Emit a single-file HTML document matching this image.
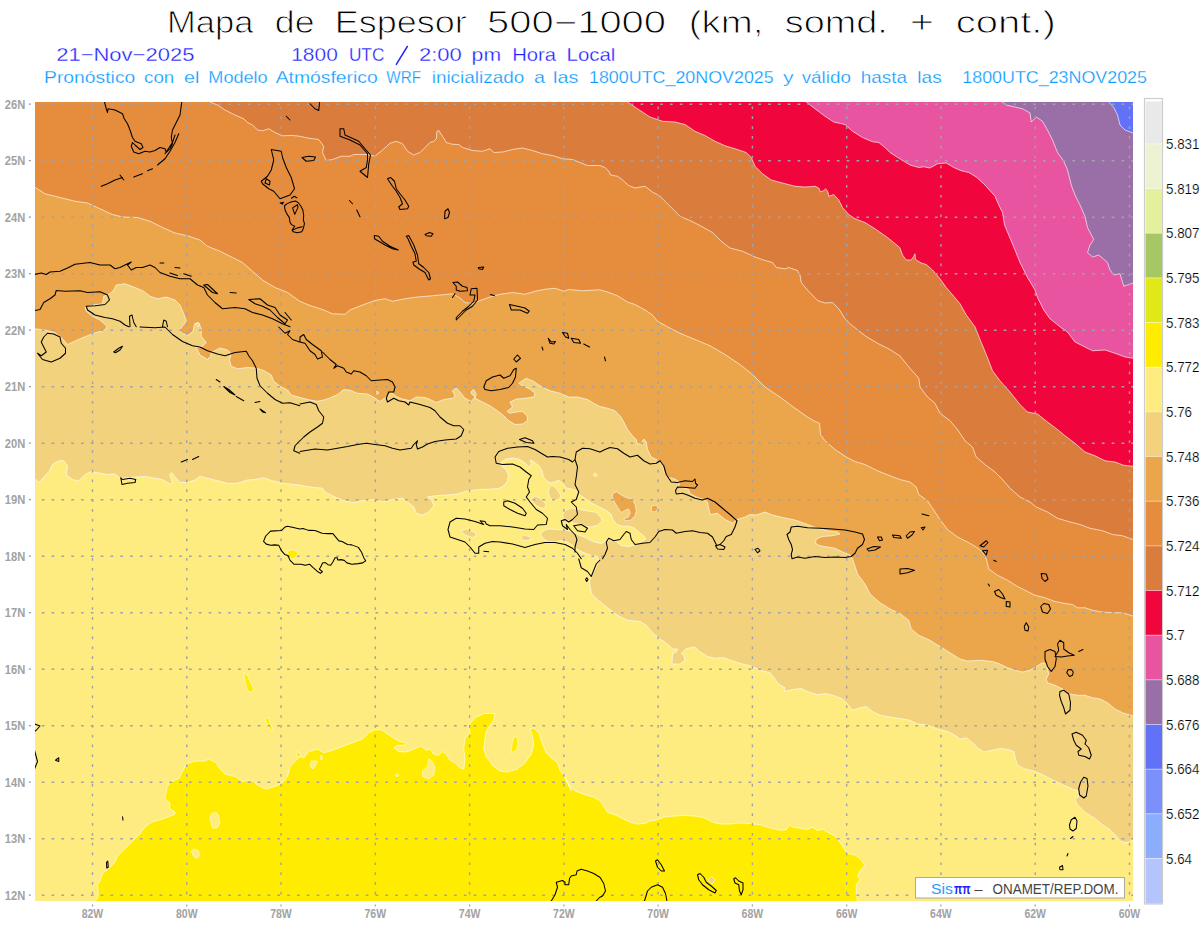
<!DOCTYPE html>
<html><head><meta charset="utf-8"><title>Mapa de Espesor 500-1000</title>
<style>
html,body{margin:0;padding:0;background:#fff;}
body{width:1200px;height:927px;overflow:hidden;font-family:"Liberation Sans",sans-serif;}
svg{display:block;}
text{font-family:"Liberation Sans",sans-serif;white-space:pre;}
.ax{font-size:13px;font-weight:bold;fill:#a2a2a2;}
.cb{font-size:14px;fill:#000;stroke:#fff;stroke-width:.2px;}
.lg{font-size:14.5px;}
.t1{font-size:31px;fill:#000;stroke:#fff;stroke-width:.9px;}
.t2{font-size:18.5px;stroke:#fff;stroke-width:.3px;}
.t3{font-size:17px;stroke:#fff;stroke-width:.25px;}
</style></head><body>
<svg width="1200" height="927" viewBox="0 0 1200 927">
<defs><clipPath id="mapclip"><rect x="35" y="102" width="1098" height="799"/></clipPath></defs>
<rect width="1200" height="927" fill="#fff"/>
<g clip-path="url(#mapclip)">
<rect x="35" y="102" width="1098" height="799" fill="#6272f8"/>
<path d="M1108.75 102 L1113.75 107.5 L1117.5 115 L1120 125 L1125 130 L1133 133 L1133 901 L35 901 L35 102Z" fill="#9a6ea6"/>
<path d="M1002 102 L1006.25 105 L1015 107 L1022.5 108.75 L1030 113 L1031.25 122 L1036.25 117 L1042.5 121.25 L1047.5 130 L1052.5 140 L1057.5 152.5 L1063.75 161.25 L1067.5 170 L1071.25 185 L1075 195 L1080 205 L1085 216.25 L1087.5 227.5 L1093.75 239.5 L1090 245 L1087.5 252.5 L1092.5 257 L1098.75 255 L1107.5 262.5 L1110 270 L1113.75 275 L1120 273.75 L1123.75 286.25 L1133 283 L1133 901 L35 901 L35 102Z" fill="#e954a1"/>
<path d="M806.25 102 L815 108.75 L825 116.25 L833.75 122 L845 124.5 L852.5 131.25 L862.5 137.5 L872.5 141.75 L878.75 142.5 L885 147.5 L890 152.5 L899.75 158.75 L910 165 L918.75 167.5 L923.75 166.75 L930 168 L937.5 163.75 L946.25 163 L953.75 167.5 L961.25 170.75 L968.75 172.5 L976.25 177 L985 185 L995 196.25 L998.75 205 L1002.5 212.5 L1004.5 225 L1008.75 235 L1015 250 L1020 262.5 L1027.5 277.5 L1035 290 L1037.5 297.5 L1043.75 310 L1050 318.75 L1060 326.75 L1067.5 332 L1075 342 L1082.5 345.75 L1092.5 350.75 L1105 350 L1115 353.25 L1125 357 L1133 358.25 L1133 901 L35 901 L35 102Z" fill="#f0063c"/>
<path d="M627.5 102 L637.5 108.75 L650 117 L662.5 121.25 L675 122 L685 124.5 L695 131.25 L705 135.5 L715 141.25 L725 145.75 L735 148.75 L746.25 152.5 L751.25 157.5 L755 166.25 L762.5 173.75 L771.25 180 L782.5 183 L795 186.25 L805 187 L815 186.25 L818.75 188 L820.5 192 L823.75 190.5 L825.75 188.75 L828 192 L828.75 196.25 L833.75 194.5 L838.75 200 L842.5 207.5 L848.75 214.5 L855 218.75 L865 222.5 L875 228.75 L887.5 237.5 L899.75 247.5 L902.5 255 L906.25 260 L911.25 260 L913.75 256.25 L915 253.75 L915.5 259.5 L921.25 263 L926.25 264.5 L932.5 270 L940 278.75 L946.25 287.5 L953.75 296.25 L960 303.75 L966.25 315 L975 326.75 L980 339.5 L986.25 354.5 L992.5 370.75 L1000 380.75 L1010 392 L1020 404.5 L1027.5 412 L1037.5 414 L1047.5 422 L1057.5 429.5 L1065 435.75 L1075 443.25 L1085 452 L1095 455.75 L1105 460.75 L1115 462 L1123.75 465.25 L1133 466.25 L1133 901 L35 901 L35 102Z" fill="#da7c3c"/>
<path d="M210 102 L217.5 105 L225 110 L235 115 L243.75 118.75 L247.5 122.5 L252.5 125 L257.5 130 L262.5 130.75 L268.75 128.75 L275 132.5 L282.5 135.75 L292.5 135.5 L299.75 136.25 L307.5 138 L318.75 139.5 L323.75 146.25 L322.5 152.5 L326.25 160.5 L332.5 159.5 L341.25 156.25 L350 156.25 L353.75 154.5 L367.5 154.5 L375 156.25 L382.5 150 L390 143.25 L396.25 141.25 L402.5 143.75 L407.5 151.25 L413.75 155 L420 152.5 L425 147.5 L430 142.5 L433.75 141.25 L436.25 138.75 L437 131.25 L438.75 130.5 L442.5 136.25 L446.25 142.5 L452.5 144.25 L458.75 144.5 L462.5 147.5 L472.5 150.5 L482.5 151.25 L490 148.75 L493.75 152.5 L502.5 152 L512.5 149.5 L522.5 148 L532.5 150.5 L542.5 153.75 L552.5 155.5 L562.5 158.75 L572.5 159.5 L580 162.5 L587.5 165.5 L599.75 165.5 L605 167.5 L608.75 171.25 L610.5 175 L617.5 176.25 L622.5 180 L628.75 185.5 L635 188 L645 186.25 L652.5 192 L660 196.25 L666.25 202.5 L672.5 208.75 L680 216.25 L688.75 220 L700 225.5 L712.5 232.5 L721.25 241.25 L730 248 L742.5 251.25 L755 257 L765 260.5 L772.5 262.5 L776.25 267.5 L785 268.75 L788.75 267.5 L797.5 270.5 L800 275 L801.25 282.5 L807.5 290 L817.5 300.5 L825 303 L832.5 302.5 L838.75 308.75 L845 318.75 L850 323.75 L853.75 326.75 L865 335.75 L877.5 343.25 L890 349.5 L899.75 355.75 L910 368.25 L918.75 378.25 L920 387 L927.5 397 L935 403.25 L940 413.25 L950 420.75 L957.5 429.5 L965 440.75 L972.5 447 L976.25 457 L985 464.5 L995 472 L1002.5 479.5 L1010 488.25 L1020 497 L1030 502 L1036.25 507 L1047.5 512 L1057.5 518.25 L1070 522 L1080 524.5 L1090 528.25 L1102.5 530.75 L1112.5 534.5 L1122.5 535.75 L1133 539.5 L1133 901 L35 901 L35 102Z" fill="#e58d3c"/>
<path d="M34.5 187 L45 193.75 L60 197.5 L75 201.25 L87.5 203 L100 208.75 L112.5 214.5 L122.5 217 L137.5 217.5 L150 221.25 L162.5 227.5 L175 233 L187.5 235.75 L200 240 L207.5 246.25 L220 251.25 L232.5 257.5 L242.5 262.5 L252.5 271.25 L262.5 280 L275 287.5 L287.5 292.5 L299.75 301.25 L310 305.5 L322.5 309.5 L332.5 313.75 L345 314.25 L350 310 L362.5 305 L375 300.5 L385 298.75 L392.5 301.25 L405 298.75 L417.5 297 L432.5 295.75 L445 294.5 L452.5 293.75 L460 298 L465 302.5 L472.5 303.75 L480 300.5 L490 297 L500 294.25 L512.5 292.5 L525 294.25 L535 291.25 L545 289.25 L555 288.25 L563.75 291.25 L568.75 289.5 L582.5 290.75 L599.75 289.75 L607.5 292 L617.5 295.75 L627.5 302 L635 304.5 L645 310 L652.5 315 L657.5 321.25 L667.5 326.75 L680 333.25 L695 339.5 L710 345.75 L725 354.5 L740 364.5 L752.5 374.5 L765 387 L780 397 L795 408.25 L807.5 417 L815 421.5 L819.5 423.25 L820.5 434.5 L825 440.75 L835 449.5 L846.25 457 L855 461.5 L865 464.5 L877.5 470.75 L890 475.75 L899.75 479.5 L910 482 L916.25 487 L918.75 494.5 L927.5 500.75 L932.5 508.25 L940 519.5 L947.5 529.5 L957.5 537 L967.5 542 L976.25 547 L982.5 552 L986.25 558.75 L988.75 569 L997.5 575.25 L1007.5 580.25 L1017.5 586.5 L1027.5 591.5 L1035 595.25 L1045 597.75 L1055 601.5 L1065 603.5 L1072.5 604.5 L1077.5 607.75 L1085 607.75 L1092.5 610.25 L1102.5 612 L1112.5 612.75 L1122.5 612.75 L1133 616 L1133 901 L35 901Z" fill="#eba54a"/>
<path d="M34.5 328.75 L45 330 L55 332.5 L62.5 338.75 L67.5 344.5 L80 338.75 L92.5 333.75 L105 330 L107 326.25 L100 320 L92.5 316.25 L86.25 311.25 L85 307.5 L92.5 305 L102.5 303.75 L103.75 296.25 L110 293.75 L113.75 290 L116.25 285 L125 283.75 L135 287.5 L143.75 291.25 L150 296.25 L157.5 298.75 L166.25 297 L175 300 L180 305 L183.75 313.75 L186.25 321.25 L182.5 326.25 L179.5 330 L182.5 333.75 L188.75 335 L193 331.25 L194.5 323.75 L198.75 323.25 L201.25 328.75 L201.25 336.25 L206.25 342.5 L202.5 346.25 L196.25 347.5 L200 355 L207.5 359.5 L210.5 356.25 L211.25 352.5 L220 348 L227.5 350 L231.25 353.75 L229.5 360 L231.25 366.25 L237.5 368.75 L247.5 367.5 L256.25 368 L263.75 370.5 L271.25 375 L273.75 381.25 L280 386.25 L287.5 390 L291.25 395 L300 397.5 L310 400 L317.5 401.25 L323.75 400 L329.75 398 L337.5 394.5 L343.75 389.5 L350 390.25 L357.5 393.25 L367.5 394 L372.5 396.5 L380 401.5 L386.25 397 L391.25 392.5 L396.25 396.5 L402.5 399 L410 400.75 L416.25 397 L425 397.5 L430 399.5 L436.25 402.5 L443.75 399.5 L452.5 398.25 L455 395.75 L452.5 390.75 L456.25 387.75 L460 392 L465 398.25 L471.25 401.5 L475 397 L470 392.5 L473.75 389.5 L476.25 394.5 L475 398.25 L482.5 402 L490 405.75 L497.5 410.75 L503.75 415.75 L508.75 420.75 L515 424.5 L522.5 424 L527.5 420.75 L527 415.75 L522.5 411.5 L516.25 412 L510 413.25 L507 411.5 L512.5 407 L510 402 L516.25 399 L525 398.25 L533.75 397 L535 393.25 L530 389 L522.5 385.75 L518.75 383.25 L526.25 378.25 L533.75 381.5 L540 385.75 L550 390.75 L560 393.25 L568.75 397 L577.5 397 L587.5 399.5 L593.75 403.25 L599.75 406.5 L607.5 408.25 L615 410.75 L620 415.75 L623.75 422 L627.5 429.5 L632.5 435.75 L636.25 439.5 L637.5 444.5 L641.25 443.25 L643.75 439 L646.25 442 L647.5 449.5 L651.25 457 L658.75 460.75 L662.5 463.25 L663.75 470.75 L667.5 477 L675 479 L679.5 482 L678.75 487 L685 488.25 L688.75 489.5 L689.5 493.25 L696.25 497 L703.75 499.5 L707.5 502 L710 514.5 L717.5 513.25 L725 519.5 L732.5 523.25 L737 519.5 L745 517 L750 514.5 L756.25 515 L765 512 L772.5 515 L782.5 517.5 L795 520 L807.5 524.5 L817.5 528.25 L827.5 530.75 L837.5 532 L840 534 L832.5 535.75 L822.5 536.5 L816.25 539 L815.5 543.25 L820 545.75 L827.5 547 L835 548.25 L842.5 552 L850 555 L852.5 558.75 L857.5 574 L865 584 L870 594 L880 602.75 L890 609 L899.75 613.5 L908.75 620.25 L911.25 629 L918.75 635.25 L930 640.25 L940 646.5 L950 652.75 L960 659 L967.5 661 L980 660.25 L992.5 661.5 L1000 664 L1007.5 667.75 L1015 670.25 L1022.5 672 L1030 670.25 L1036.25 666.5 L1042.5 662.75 L1046.25 664 L1047.5 669 L1048.75 674 L1046.25 679 L1047.5 682.75 L1055 685.25 L1062.5 689 L1070 694 L1077.5 695.25 L1085 695.25 L1092.5 697.75 L1100 699 L1107.5 702.75 L1115 709 L1122.5 712.75 L1133 716 L1133 901 L35 901Z" fill="#f3d27e"/>
<path d="M34.5 478.25 L38.75 482.5 L43.75 477 L48.75 472 L52.5 464.5 L58.75 460.75 L63.75 460.75 L67.5 465.75 L66.25 474.5 L72.5 479.5 L78.75 480.75 L85 474.5 L91.25 471.5 L100 473.25 L107.5 474.5 L115 474 L120 478.25 L127.5 477.75 L136.25 477 L145 476.5 L155 478.25 L162.5 479.5 L170 484 L172.5 483.25 L169.5 474.5 L172 472.75 L175 477 L180 482.5 L187.5 482.5 L195 480 L200 476.25 L207.5 478.25 L217.5 480.75 L227.5 483.25 L237.5 483.25 L247.5 480 L255 479.5 L263.75 477.75 L272.5 480.75 L282.5 483.25 L299.75 485 L310 487 L322.5 488.25 L325 492 L335 497 L343.75 500.75 L353.75 502.75 L365 500 L375 499.5 L382.5 502 L392.5 499.5 L402.5 498.25 L407.5 502 L413.75 507 L416.25 513.25 L422.5 515 L428.75 512 L433.75 505.75 L431.25 499.5 L427.5 497 L435 495.75 L447.5 495 L457.5 494 L467.5 490.75 L480 489.5 L480 489.5 L489.17 489.13 L498.33 488.58 L503.83 485.83 L507.5 481.25 L508.42 474.83 L505.67 469.33 L501.08 465.67 L500.17 462.92 L505.67 459.25 L513 457.97 L519.42 459.25 L524.92 462.92 L529.5 467.13 L531.33 463.83 L530.42 459.8 L534.08 462 L538.67 465.67 L542.33 471.17 L543.25 476.67 L546.92 481.25 L551.5 483.08 L558.83 480.33 L563.42 484 L566.17 488.03 L573.5 489.5 L578.08 491.33 L579.92 495 L585.42 498.67 L591.83 503.25 L599.17 506.92 L606.5 510.58 L611.08 514.25 L612.92 519.75 L616.58 524.33 L622.08 526.17 L628.5 526.17 L634 528 L639.5 532.58 L644.08 536.25 L645.92 539 L641.33 541.75 L635.83 544.5 L628.5 546.7 L621.17 545.42 L616.58 541.75 L612 540.83 L608.33 539.92 L601 543.58 L593.67 541.75 L586.33 538.08 L579 534.97 L573.5 532.03 L566.17 530.2 L557 529.47 L548.75 528.92 L543.25 530.75 L540.5 534.42 L543.25 539 L548.75 541.75 L557 541.75 L561.58 540.47 L566.17 541.75 L571.67 544.5 L575.33 548.17 L582.67 552.2 L590 555.13 L597.33 556.42 L599.17 561 L595.5 568.33 L591.83 575.67 L589.63 581.17 L590 586.67 L591.83 594 L597.33 599.5 L600.08 602.25 L600 601.5 L607.5 607.75 L617.5 615.25 L627.5 620.25 L640 621.5 L646.25 625.25 L652.5 632.75 L660 639 L667.5 644 L672.5 649 L677.5 649 L676.25 652 L672.5 653.5 L672 664 L680 664 L685 660.25 L683.75 655.25 L681.25 653.5 L686.25 648.5 L695 647 L698.75 651 L707.5 656.5 L715 658.25 L723.75 657.75 L732.5 661 L742.5 664 L752.5 666.5 L760 670.25 L770 672.75 L775 679 L777.5 683.25 L785 687.75 L784.5 691.5 L792.5 689.5 L801.25 688.5 L807.5 691.5 L817.5 694.75 L826.25 693.5 L835 696 L842.5 699 L847.5 704 L852.5 710.25 L860 707.75 L866.25 706.5 L872.5 711.5 L880 715.25 L890 717 L899.75 718.5 L910 720.25 L917.5 724 L927.5 725.25 L937.5 729 L947.5 731.5 L955 735.25 L960 739 L966.25 737.75 L972.5 742.75 L977.5 747.75 L983.75 752 L992.5 750.25 L1000 748.5 L1007.5 749.5 L1013.75 751.5 L1015.5 759 L1017.5 765.25 L1025 769 L1033.75 771 L1042.5 774.75 L1052.5 779.75 L1062.5 784.75 L1072.5 789 L1077.5 790.5 L1078.75 796 L1075 799.75 L1077.5 804.75 L1085 812.25 L1095 818.5 L1102.5 824.75 L1110 829.75 L1116.25 836 L1120 841 L1125 842.75 L1130 841.75 L1133 839.75 L1133 901 L35 901Z" fill="#ffec80"/>
<path d="M95 901 L97.5 898.5 L98.25 893.5 L97.5 884.75 L100 881 L102.5 873.5 L107.5 869.75 L115 862.25 L117.5 856 L125 848.5 L132.5 841 L140 833.5 L145 827.25 L151.25 822.25 L160 819.75 L167.5 817.25 L175 814 L175 812.25 L169.5 808.5 L170 803.5 L165 798.5 L167 787.25 L170 782.25 L178.75 778.5 L182.5 771 L182.5 771.5 L186.25 764 L195 761 L205 761 L208.75 759 L216.25 762.75 L220 769 L225 774 L235 776.5 L242.5 781.5 L247.5 780.25 L252.5 780.25 L257.5 785.25 L266.25 789 L275 786.5 L282.5 782.75 L287.5 776.5 L290 766.5 L296.25 760.25 L299.75 756.5 L303.75 757.75 L308.75 751.5 L317.5 749 L323.75 752.75 L332.5 750.25 L342.5 746.5 L352.5 742.75 L362.5 739 L368.75 732.75 L375 729.75 L381.25 729.75 L387.5 734 L395 739 L400 741.5 L406.25 742.75 L405 745.25 L397.5 745.25 L393.75 747.75 L398.75 751.5 L406.25 752 L415 748.5 L421.25 746 L426.25 750.25 L430 749 L433.75 754 L438.75 755.25 L442.5 751.5 L446.25 754 L450 760.25 L455 762.75 L460 767.75 L463.75 769 L465 759 L463.75 749 L465 737.75 L470 734 L468.75 725.25 L475 717.75 L483.75 713.5 L495 713.5 L493.75 720.25 L490 725.25 L486.25 731.5 L485 739 L483.75 749 L486.25 756.5 L492.5 765.25 L500 771 L507.5 772 L517.5 769 L525 762.75 L531.25 754 L533.75 744 L532.5 736.5 L530 729 L533.75 727.75 L538.75 732.75 L542.5 744 L546.25 752.75 L551.25 757.75 L557.5 762.75 L560 770.25 L565 777.75 L568.75 785.25 L571.25 790.75 L565 777.25 L568.75 784.75 L575 791 L585 794.75 L593.75 797.25 L599.75 800.5 L603.75 806 L607.5 812.25 L615 814.75 L622.5 818.5 L630 822.25 L637.5 824 L645 823.5 L650 821 L657.5 819.75 L665 816.75 L675 816 L685 815.5 L695 816 L705 818 L712.5 822.25 L720 824 L730 824 L740 823 L750 823.5 L760 824.75 L770 828 L780 830.25 L786.25 829.75 L789.5 824.75 L792.5 827.25 L800 828 L806.25 829.75 L812.5 827.25 L817.5 830.5 L822.5 829 L827.5 832.25 L835 836 L840 842.25 L843.75 848.5 L847.5 853.5 L855 854.75 L861.25 859.75 L865 865.5 L860 871 L857.5 876 L860 879.75 L856.25 884.75 L856.25 893.5 L857.5 901Z" fill="#ffec00"/>
<path d="M612.92 493.17 L616.58 491.88 L621.17 495 L626.67 497.75 L632.17 499.03 L634.92 504.17 L636.2 510.58 L634.92 516.08 L630.33 520.3 L624.83 520.67 L623.92 518.83 L628.5 517 L630.33 512.42 L628.5 508.75 L624.83 510.58 L621.17 512.42 L617.5 506.92 L614.75 502.33 L612.37 496.83Z" fill="#eba54a" stroke="#fff" stroke-opacity=".75" stroke-width=".7"/>
<path d="M651.42 506 L656.92 505.08 L657.83 508.75 L655.08 511.87 L651.42 511.5Z" fill="#eba54a" stroke="#fff" stroke-opacity=".75" stroke-width=".7"/>
<path d="M791.25 550.25 L792.5 548.5 L794 550.75 L792.5 553.25Z" fill="#eba54a" stroke="#fff" stroke-opacity=".75" stroke-width=".7"/>
<path d="M548.75 489.5 L550.58 485.83 L553.33 485.83 L557 489.5 L560.67 495 L559.75 498.67 L555.17 500.13 L550.58 498.67 L548.75 494.08Z" fill="#f3d27e" stroke="#fff" stroke-opacity=".75" stroke-width=".7"/>
<path d="M532.25 498.67 L535 495.92 L540.5 498.67 L545.08 503.25 L546 506.92 L542.33 508.2 L536.83 506 L533.17 502.33Z" fill="#f3d27e" stroke="#fff" stroke-opacity=".75" stroke-width=".7"/>
<path d="M562.5 515.17 L565.25 510.58 L571.67 508.2 L579 509.3 L588.17 511.13 L596.42 512.42 L601 517.92 L601.92 520.67 L597.33 525.25 L590 527.08 L582.67 525.25 L575.33 523.42 L568 520.67 L563.42 517.92Z" fill="#f3d27e" stroke="#fff" stroke-opacity=".75" stroke-width=".7"/>
<path d="M521.25 537.17 L524 534.97 L529.5 536.8 L531.33 539 L526.75 540.47 L522.17 539.92Z" fill="#f3d27e" stroke="#fff" stroke-opacity=".75" stroke-width=".7"/>
<path d="M195.75 323.75 L198 322 L200 324.5 L198 326.75Z" fill="#f3d27e" stroke="#fff" stroke-opacity=".75" stroke-width=".7"/>
<path d="M375.5 392.75 L377 391 L379 392.75 L377 394.5Z" fill="#f3d27e" stroke="#fff" stroke-opacity=".75" stroke-width=".7"/>
<path d="M593.12 474.47 L595.13 473 L597.33 474.83 L595.5 477.03Z" fill="#ffec80" stroke="#fff" stroke-opacity=".75" stroke-width=".7"/>
<path d="M243.75 672.75 L247.5 675.25 L251.25 684 L253.75 689 L251.25 692.75 L247.5 690.25 L245 681.5Z" fill="#ffec00" stroke="#fff" stroke-opacity=".75" stroke-width=".7"/>
<path d="M265 719 L268.75 717.75 L270 724 L273 729 L271.25 730.25 L267.5 725.25Z" fill="#ffec00" stroke="#fff" stroke-opacity=".75" stroke-width=".7"/>
<path d="M295.75 751.5 L299.75 752.75 L301.25 756.5 L297.5 757Z" fill="#ffec00" stroke="#fff" stroke-opacity=".75" stroke-width=".7"/>
<path d="M511.25 752.75 L512 744 L513.75 737 L517.5 737 L518 745.25 L516.25 750.25Z" fill="#ffec00" stroke="#fff" stroke-opacity=".75" stroke-width=".7"/>
<path d="M287.38 552.79 L289 550.3 L293.33 550.08 L297.12 551.17 L297.88 553.88 L296.04 557.12 L292.79 558.97 L290.08 557.67 L287.92 554.96Z" fill="#ffec00" stroke="#fff" stroke-opacity=".75" stroke-width=".7"/>
<path d="M422.5 776.5 L422.5 771 L427.5 766.5 L428.75 759 L432.5 761.5 L435 767.75 L433.75 775.25 L428.75 779Z" fill="#ffec80" stroke="#fff" stroke-opacity=".75" stroke-width=".7"/>
<path d="M310 765.25 L311.25 761 L317.5 761 L315 766.5 L312.5 769Z" fill="#ffec80" stroke="#fff" stroke-opacity=".75" stroke-width=".7"/>
<path d="M210 818.5 L211.25 813.5 L216.25 812.25 L218.75 816 L219.5 823.5 L217 828 L212.5 828Z" fill="#ffec80" stroke="#fff" stroke-opacity=".75" stroke-width=".7"/>
<path d="M191.25 851 L195 849 L198.75 851 L199.25 856 L196.25 858.5 L193 855.5Z" fill="#ffec80" stroke="#fff" stroke-opacity=".75" stroke-width=".7"/>
<path d="M320 757.75 L321.25 755.25 L322.75 757.75 L321.25 760.25Z" fill="#ffec80" stroke="#fff" stroke-opacity=".75" stroke-width=".7"/>
<path d="M395.5 775.25 L397 773.5 L398.75 775.25 L397 777Z" fill="#ffec80" stroke="#fff" stroke-opacity=".75" stroke-width=".7"/>
<path d="M708 879.75 L711.25 876.5 L715 879.75 L711.75 884Z" fill="#f3d27e" stroke="#fff" stroke-opacity=".75" stroke-width=".7"/>
<path d="M461.25 530.75 L466.25 529 L475 532.5 L476.25 535.75 L472.5 537.5 L465 535Z" fill="#f3d27e" stroke="#fff" stroke-opacity=".75" stroke-width=".7"/>
<path d="M1108.75 102 L1113.75 107.5 L1117.5 115 L1120 125 L1125 130 L1133 133 M1002 102 L1006.25 105 L1015 107 L1022.5 108.75 L1030 113 L1031.25 122 L1036.25 117 L1042.5 121.25 L1047.5 130 L1052.5 140 L1057.5 152.5 L1063.75 161.25 L1067.5 170 L1071.25 185 L1075 195 L1080 205 L1085 216.25 L1087.5 227.5 L1093.75 239.5 L1090 245 L1087.5 252.5 L1092.5 257 L1098.75 255 L1107.5 262.5 L1110 270 L1113.75 275 L1120 273.75 L1123.75 286.25 L1133 283 M806.25 102 L815 108.75 L825 116.25 L833.75 122 L845 124.5 L852.5 131.25 L862.5 137.5 L872.5 141.75 L878.75 142.5 L885 147.5 L890 152.5 L899.75 158.75 L910 165 L918.75 167.5 L923.75 166.75 L930 168 L937.5 163.75 L946.25 163 L953.75 167.5 L961.25 170.75 L968.75 172.5 L976.25 177 L985 185 L995 196.25 L998.75 205 L1002.5 212.5 L1004.5 225 L1008.75 235 L1015 250 L1020 262.5 L1027.5 277.5 L1035 290 L1037.5 297.5 L1043.75 310 L1050 318.75 L1060 326.75 L1067.5 332 L1075 342 L1082.5 345.75 L1092.5 350.75 L1105 350 L1115 353.25 L1125 357 L1133 358.25 M627.5 102 L637.5 108.75 L650 117 L662.5 121.25 L675 122 L685 124.5 L695 131.25 L705 135.5 L715 141.25 L725 145.75 L735 148.75 L746.25 152.5 L751.25 157.5 L755 166.25 L762.5 173.75 L771.25 180 L782.5 183 L795 186.25 L805 187 L815 186.25 L818.75 188 L820.5 192 L823.75 190.5 L825.75 188.75 L828 192 L828.75 196.25 L833.75 194.5 L838.75 200 L842.5 207.5 L848.75 214.5 L855 218.75 L865 222.5 L875 228.75 L887.5 237.5 L899.75 247.5 L902.5 255 L906.25 260 L911.25 260 L913.75 256.25 L915 253.75 L915.5 259.5 L921.25 263 L926.25 264.5 L932.5 270 L940 278.75 L946.25 287.5 L953.75 296.25 L960 303.75 L966.25 315 L975 326.75 L980 339.5 L986.25 354.5 L992.5 370.75 L1000 380.75 L1010 392 L1020 404.5 L1027.5 412 L1037.5 414 L1047.5 422 L1057.5 429.5 L1065 435.75 L1075 443.25 L1085 452 L1095 455.75 L1105 460.75 L1115 462 L1123.75 465.25 L1133 466.25 M210 102 L217.5 105 L225 110 L235 115 L243.75 118.75 L247.5 122.5 L252.5 125 L257.5 130 L262.5 130.75 L268.75 128.75 L275 132.5 L282.5 135.75 L292.5 135.5 L299.75 136.25 L307.5 138 L318.75 139.5 L323.75 146.25 L322.5 152.5 L326.25 160.5 L332.5 159.5 L341.25 156.25 L350 156.25 L353.75 154.5 L367.5 154.5 L375 156.25 L382.5 150 L390 143.25 L396.25 141.25 L402.5 143.75 L407.5 151.25 L413.75 155 L420 152.5 L425 147.5 L430 142.5 L433.75 141.25 L436.25 138.75 L437 131.25 L438.75 130.5 L442.5 136.25 L446.25 142.5 L452.5 144.25 L458.75 144.5 L462.5 147.5 L472.5 150.5 L482.5 151.25 L490 148.75 L493.75 152.5 L502.5 152 L512.5 149.5 L522.5 148 L532.5 150.5 L542.5 153.75 L552.5 155.5 L562.5 158.75 L572.5 159.5 L580 162.5 L587.5 165.5 L599.75 165.5 L605 167.5 L608.75 171.25 L610.5 175 L617.5 176.25 L622.5 180 L628.75 185.5 L635 188 L645 186.25 L652.5 192 L660 196.25 L666.25 202.5 L672.5 208.75 L680 216.25 L688.75 220 L700 225.5 L712.5 232.5 L721.25 241.25 L730 248 L742.5 251.25 L755 257 L765 260.5 L772.5 262.5 L776.25 267.5 L785 268.75 L788.75 267.5 L797.5 270.5 L800 275 L801.25 282.5 L807.5 290 L817.5 300.5 L825 303 L832.5 302.5 L838.75 308.75 L845 318.75 L850 323.75 L853.75 326.75 L865 335.75 L877.5 343.25 L890 349.5 L899.75 355.75 L910 368.25 L918.75 378.25 L920 387 L927.5 397 L935 403.25 L940 413.25 L950 420.75 L957.5 429.5 L965 440.75 L972.5 447 L976.25 457 L985 464.5 L995 472 L1002.5 479.5 L1010 488.25 L1020 497 L1030 502 L1036.25 507 L1047.5 512 L1057.5 518.25 L1070 522 L1080 524.5 L1090 528.25 L1102.5 530.75 L1112.5 534.5 L1122.5 535.75 L1133 539.5 M34.5 187 L45 193.75 L60 197.5 L75 201.25 L87.5 203 L100 208.75 L112.5 214.5 L122.5 217 L137.5 217.5 L150 221.25 L162.5 227.5 L175 233 L187.5 235.75 L200 240 L207.5 246.25 L220 251.25 L232.5 257.5 L242.5 262.5 L252.5 271.25 L262.5 280 L275 287.5 L287.5 292.5 L299.75 301.25 L310 305.5 L322.5 309.5 L332.5 313.75 L345 314.25 L350 310 L362.5 305 L375 300.5 L385 298.75 L392.5 301.25 L405 298.75 L417.5 297 L432.5 295.75 L445 294.5 L452.5 293.75 L460 298 L465 302.5 L472.5 303.75 L480 300.5 L490 297 L500 294.25 L512.5 292.5 L525 294.25 L535 291.25 L545 289.25 L555 288.25 L563.75 291.25 L568.75 289.5 L582.5 290.75 L599.75 289.75 L607.5 292 L617.5 295.75 L627.5 302 L635 304.5 L645 310 L652.5 315 L657.5 321.25 L667.5 326.75 L680 333.25 L695 339.5 L710 345.75 L725 354.5 L740 364.5 L752.5 374.5 L765 387 L780 397 L795 408.25 L807.5 417 L815 421.5 L819.5 423.25 L820.5 434.5 L825 440.75 L835 449.5 L846.25 457 L855 461.5 L865 464.5 L877.5 470.75 L890 475.75 L899.75 479.5 L910 482 L916.25 487 L918.75 494.5 L927.5 500.75 L932.5 508.25 L940 519.5 L947.5 529.5 L957.5 537 L967.5 542 L976.25 547 L982.5 552 L986.25 558.75 L988.75 569 L997.5 575.25 L1007.5 580.25 L1017.5 586.5 L1027.5 591.5 L1035 595.25 L1045 597.75 L1055 601.5 L1065 603.5 L1072.5 604.5 L1077.5 607.75 L1085 607.75 L1092.5 610.25 L1102.5 612 L1112.5 612.75 L1122.5 612.75 L1133 616 M34.5 328.75 L45 330 L55 332.5 L62.5 338.75 L67.5 344.5 L80 338.75 L92.5 333.75 L105 330 L107 326.25 L100 320 L92.5 316.25 L86.25 311.25 L85 307.5 L92.5 305 L102.5 303.75 L103.75 296.25 L110 293.75 L113.75 290 L116.25 285 L125 283.75 L135 287.5 L143.75 291.25 L150 296.25 L157.5 298.75 L166.25 297 L175 300 L180 305 L183.75 313.75 L186.25 321.25 L182.5 326.25 L179.5 330 L182.5 333.75 L188.75 335 L193 331.25 L194.5 323.75 L198.75 323.25 L201.25 328.75 L201.25 336.25 L206.25 342.5 L202.5 346.25 L196.25 347.5 L200 355 L207.5 359.5 L210.5 356.25 L211.25 352.5 L220 348 L227.5 350 L231.25 353.75 L229.5 360 L231.25 366.25 L237.5 368.75 L247.5 367.5 L256.25 368 L263.75 370.5 L271.25 375 L273.75 381.25 L280 386.25 L287.5 390 L291.25 395 L300 397.5 L310 400 L317.5 401.25 L323.75 400 L329.75 398 L337.5 394.5 L343.75 389.5 L350 390.25 L357.5 393.25 L367.5 394 L372.5 396.5 L380 401.5 L386.25 397 L391.25 392.5 L396.25 396.5 L402.5 399 L410 400.75 L416.25 397 L425 397.5 L430 399.5 L436.25 402.5 L443.75 399.5 L452.5 398.25 L455 395.75 L452.5 390.75 L456.25 387.75 L460 392 L465 398.25 L471.25 401.5 L475 397 L470 392.5 L473.75 389.5 L476.25 394.5 L475 398.25 L482.5 402 L490 405.75 L497.5 410.75 L503.75 415.75 L508.75 420.75 L515 424.5 L522.5 424 L527.5 420.75 L527 415.75 L522.5 411.5 L516.25 412 L510 413.25 L507 411.5 L512.5 407 L510 402 L516.25 399 L525 398.25 L533.75 397 L535 393.25 L530 389 L522.5 385.75 L518.75 383.25 L526.25 378.25 L533.75 381.5 L540 385.75 L550 390.75 L560 393.25 L568.75 397 L577.5 397 L587.5 399.5 L593.75 403.25 L599.75 406.5 L607.5 408.25 L615 410.75 L620 415.75 L623.75 422 L627.5 429.5 L632.5 435.75 L636.25 439.5 L637.5 444.5 L641.25 443.25 L643.75 439 L646.25 442 L647.5 449.5 L651.25 457 L658.75 460.75 L662.5 463.25 L663.75 470.75 L667.5 477 L675 479 L679.5 482 L678.75 487 L685 488.25 L688.75 489.5 L689.5 493.25 L696.25 497 L703.75 499.5 L707.5 502 L710 514.5 L717.5 513.25 L725 519.5 L732.5 523.25 L737 519.5 L745 517 L750 514.5 L756.25 515 L765 512 L772.5 515 L782.5 517.5 L795 520 L807.5 524.5 L817.5 528.25 L827.5 530.75 L837.5 532 L840 534 L832.5 535.75 L822.5 536.5 L816.25 539 L815.5 543.25 L820 545.75 L827.5 547 L835 548.25 L842.5 552 L850 555 L852.5 558.75 L857.5 574 L865 584 L870 594 L880 602.75 L890 609 L899.75 613.5 L908.75 620.25 L911.25 629 L918.75 635.25 L930 640.25 L940 646.5 L950 652.75 L960 659 L967.5 661 L980 660.25 L992.5 661.5 L1000 664 L1007.5 667.75 L1015 670.25 L1022.5 672 L1030 670.25 L1036.25 666.5 L1042.5 662.75 L1046.25 664 L1047.5 669 L1048.75 674 L1046.25 679 L1047.5 682.75 L1055 685.25 L1062.5 689 L1070 694 L1077.5 695.25 L1085 695.25 L1092.5 697.75 L1100 699 L1107.5 702.75 L1115 709 L1122.5 712.75 L1133 716 M34.5 478.25 L38.75 482.5 L43.75 477 L48.75 472 L52.5 464.5 L58.75 460.75 L63.75 460.75 L67.5 465.75 L66.25 474.5 L72.5 479.5 L78.75 480.75 L85 474.5 L91.25 471.5 L100 473.25 L107.5 474.5 L115 474 L120 478.25 L127.5 477.75 L136.25 477 L145 476.5 L155 478.25 L162.5 479.5 L170 484 L172.5 483.25 L169.5 474.5 L172 472.75 L175 477 L180 482.5 L187.5 482.5 L195 480 L200 476.25 L207.5 478.25 L217.5 480.75 L227.5 483.25 L237.5 483.25 L247.5 480 L255 479.5 L263.75 477.75 L272.5 480.75 L282.5 483.25 L299.75 485 L310 487 L322.5 488.25 L325 492 L335 497 L343.75 500.75 L353.75 502.75 L365 500 L375 499.5 L382.5 502 L392.5 499.5 L402.5 498.25 L407.5 502 L413.75 507 L416.25 513.25 L422.5 515 L428.75 512 L433.75 505.75 L431.25 499.5 L427.5 497 L435 495.75 L447.5 495 L457.5 494 L467.5 490.75 L480 489.5 L480 489.5 L489.17 489.13 L498.33 488.58 L503.83 485.83 L507.5 481.25 L508.42 474.83 L505.67 469.33 L501.08 465.67 L500.17 462.92 L505.67 459.25 L513 457.97 L519.42 459.25 L524.92 462.92 L529.5 467.13 L531.33 463.83 L530.42 459.8 L534.08 462 L538.67 465.67 L542.33 471.17 L543.25 476.67 L546.92 481.25 L551.5 483.08 L558.83 480.33 L563.42 484 L566.17 488.03 L573.5 489.5 L578.08 491.33 L579.92 495 L585.42 498.67 L591.83 503.25 L599.17 506.92 L606.5 510.58 L611.08 514.25 L612.92 519.75 L616.58 524.33 L622.08 526.17 L628.5 526.17 L634 528 L639.5 532.58 L644.08 536.25 L645.92 539 L641.33 541.75 L635.83 544.5 L628.5 546.7 L621.17 545.42 L616.58 541.75 L612 540.83 L608.33 539.92 L601 543.58 L593.67 541.75 L586.33 538.08 L579 534.97 L573.5 532.03 L566.17 530.2 L557 529.47 L548.75 528.92 L543.25 530.75 L540.5 534.42 L543.25 539 L548.75 541.75 L557 541.75 L561.58 540.47 L566.17 541.75 L571.67 544.5 L575.33 548.17 L582.67 552.2 L590 555.13 L597.33 556.42 L599.17 561 L595.5 568.33 L591.83 575.67 L589.63 581.17 L590 586.67 L591.83 594 L597.33 599.5 L600.08 602.25 L600 601.5 L607.5 607.75 L617.5 615.25 L627.5 620.25 L640 621.5 L646.25 625.25 L652.5 632.75 L660 639 L667.5 644 L672.5 649 L677.5 649 L676.25 652 L672.5 653.5 L672 664 L680 664 L685 660.25 L683.75 655.25 L681.25 653.5 L686.25 648.5 L695 647 L698.75 651 L707.5 656.5 L715 658.25 L723.75 657.75 L732.5 661 L742.5 664 L752.5 666.5 L760 670.25 L770 672.75 L775 679 L777.5 683.25 L785 687.75 L784.5 691.5 L792.5 689.5 L801.25 688.5 L807.5 691.5 L817.5 694.75 L826.25 693.5 L835 696 L842.5 699 L847.5 704 L852.5 710.25 L860 707.75 L866.25 706.5 L872.5 711.5 L880 715.25 L890 717 L899.75 718.5 L910 720.25 L917.5 724 L927.5 725.25 L937.5 729 L947.5 731.5 L955 735.25 L960 739 L966.25 737.75 L972.5 742.75 L977.5 747.75 L983.75 752 L992.5 750.25 L1000 748.5 L1007.5 749.5 L1013.75 751.5 L1015.5 759 L1017.5 765.25 L1025 769 L1033.75 771 L1042.5 774.75 L1052.5 779.75 L1062.5 784.75 L1072.5 789 L1077.5 790.5 L1078.75 796 L1075 799.75 L1077.5 804.75 L1085 812.25 L1095 818.5 L1102.5 824.75 L1110 829.75 L1116.25 836 L1120 841 L1125 842.75 L1130 841.75 L1133 839.75 M95 901 L97.5 898.5 L98.25 893.5 L97.5 884.75 L100 881 L102.5 873.5 L107.5 869.75 L115 862.25 L117.5 856 L125 848.5 L132.5 841 L140 833.5 L145 827.25 L151.25 822.25 L160 819.75 L167.5 817.25 L175 814 L175 812.25 L169.5 808.5 L170 803.5 L165 798.5 L167 787.25 L170 782.25 L178.75 778.5 L182.5 771 L182.5 771.5 L186.25 764 L195 761 L205 761 L208.75 759 L216.25 762.75 L220 769 L225 774 L235 776.5 L242.5 781.5 L247.5 780.25 L252.5 780.25 L257.5 785.25 L266.25 789 L275 786.5 L282.5 782.75 L287.5 776.5 L290 766.5 L296.25 760.25 L299.75 756.5 L303.75 757.75 L308.75 751.5 L317.5 749 L323.75 752.75 L332.5 750.25 L342.5 746.5 L352.5 742.75 L362.5 739 L368.75 732.75 L375 729.75 L381.25 729.75 L387.5 734 L395 739 L400 741.5 L406.25 742.75 L405 745.25 L397.5 745.25 L393.75 747.75 L398.75 751.5 L406.25 752 L415 748.5 L421.25 746 L426.25 750.25 L430 749 L433.75 754 L438.75 755.25 L442.5 751.5 L446.25 754 L450 760.25 L455 762.75 L460 767.75 L463.75 769 L465 759 L463.75 749 L465 737.75 L470 734 L468.75 725.25 L475 717.75 L483.75 713.5 L495 713.5 L493.75 720.25 L490 725.25 L486.25 731.5 L485 739 L483.75 749 L486.25 756.5 L492.5 765.25 L500 771 L507.5 772 L517.5 769 L525 762.75 L531.25 754 L533.75 744 L532.5 736.5 L530 729 L533.75 727.75 L538.75 732.75 L542.5 744 L546.25 752.75 L551.25 757.75 L557.5 762.75 L560 770.25 L565 777.75 L568.75 785.25 L571.25 790.75 L565 777.25 L568.75 784.75 L575 791 L585 794.75 L593.75 797.25 L599.75 800.5 L603.75 806 L607.5 812.25 L615 814.75 L622.5 818.5 L630 822.25 L637.5 824 L645 823.5 L650 821 L657.5 819.75 L665 816.75 L675 816 L685 815.5 L695 816 L705 818 L712.5 822.25 L720 824 L730 824 L740 823 L750 823.5 L760 824.75 L770 828 L780 830.25 L786.25 829.75 L789.5 824.75 L792.5 827.25 L800 828 L806.25 829.75 L812.5 827.25 L817.5 830.5 L822.5 829 L827.5 832.25 L835 836 L840 842.25 L843.75 848.5 L847.5 853.5 L855 854.75 L861.25 859.75 L865 865.5 L860 871 L857.5 876 L860 879.75 L856.25 884.75 L856.25 893.5 L857.5 901" fill="none" stroke="#fff" stroke-opacity=".8" stroke-width=".8" stroke-linejoin="round"/>
<path d="M41.75 104.20H1135 M41.75 160.70H1135 M41.75 217.20H1135 M41.75 273.70H1135 M41.75 330.20H1135 M41.75 386.70H1135 M41.75 443.20H1135 M41.75 499.70H1135 M41.75 556.20H1135 M41.75 612.70H1135 M41.75 669.20H1135 M41.75 725.70H1135 M41.75 782.20H1135 M41.75 838.70H1135 M41.75 895.20H1135" fill="none" stroke="#a2a2a8" stroke-width="1.4" stroke-dasharray="2.7 7.116"/>
<path d="M92.50 106.55V901 M186.77 106.55V901 M281.04 106.55V901 M375.32 106.55V901 M469.59 106.55V901 M563.86 106.55V901 M658.13 106.55V901 M752.40 106.55V901 M846.68 106.55V901 M940.95 106.55V901 M1035.22 106.55V901 M1129.49 106.55V901" fill="none" stroke="#a2a2a8" stroke-width="1.4" stroke-dasharray="2.7 7.116"/>
<path d="M104.5 102 L106.25 108.75 L107.5 112.5 L108 108.75 L115 110 L122.5 113.75 L124.25 118.75 L127.5 123.75 L130 130 L132.5 137.5 L135 141.25 L141.25 143.75 L143 147.5 L140 149.5 L135 145 L132.5 142.5 L131.25 146.25 L133.75 152 L138.75 153.75 L145 151.25 L150 152 L155 150.5 L160 147.5 L165 148.75 L166.25 152.5 L170 148.75 L172.5 143.75 L171.25 137.5 L172.5 130 L176.25 122.5 L180 115 L181.75 102 M101.25 186.25 L107.5 183.75 L115 180 L122.5 177.5 M120 175 L123.75 180 M133.75 177 L142.5 173.75 M147.5 170.75 L152.5 168.75 M157.5 165 L165 158.75 L170 151.25 L175 142.5 L178.75 133.75 M165 153.75 L172.5 142.5 L175 135 M271.25 149.5 L281.25 151.25 L282.5 157.5 L286.25 167.5 L291.25 177.5 L294.5 188.75 L290 195 L280 198.75 L273.75 191.25 L268.75 188.75 L262.5 183.75 L261.25 181.25 L267.5 176.25 L271.25 170 L273.75 160Z M266.25 178.75 L270 181.25 L269.5 185 L265 183Z M286.25 116.25 L290 120 M34.5 274.5 L41.25 273 L46.25 274.5 L50 272 L60 271.25 L67.5 268 L75 264.25 L90 262.5 L100 265 L110 265 L115 268.75 L120 267.5 L125 265 L131.25 262 L127.5 265 L131.25 270 L136.25 267.5 L142.5 267.5 L150 265 L155 267.5 L160 272.5 L170 276.25 L180 278.75 L190 278.75 L197.5 285 L203.75 287.5 L207.5 295 L215 302.5 L222.5 308.75 L235 307.5 L245 308.75 L252.5 312.5 L262.5 315 L272.5 318.75 L282.5 323.75 L290 326.75 M160 263 L163.75 263 M175 267.5 L180 268 M183.75 273.75 L191.25 276.25 M170 273 L177.5 275.5 M203.75 285 L207.5 284.5 L217.5 293.75 L212.5 292.5Z M230 292.5 L236.25 293 M248.75 299.5 L260 298.75 L267.5 305 L275 307.5 L280 315 L287.5 320 L285 323.75 L277.5 317.5 L270 310 L262.5 306.25 L255 303.75Z M285 312.5 L291.25 320 M34.5 310.5 L40 309.5 L43.75 302.5 L50 298.75 L55 295 L56.25 290.5 L65 291.25 L80 290.75 L87.5 292.5 L100 291.75 L107.5 295 L109.5 300 L105 304.5 L95 305.75 L86.25 306.25 L87.5 310 L95 315 L105 317.5 L112.5 318.75 L120 321.25 L125 325 L128.75 326.75 M130 326.75 L129.5 316.25 L132 315 L133.75 322.5 L136.25 326.75 M162.5 326.75 L163.75 320 L166.25 321.25 L167.5 326.75 M310 103.75 L315 108.75 L318.75 110.5 L319.5 102.5 M340 128.75 L343.75 128.75 L345 135 L358.75 141.25 L365 148.75 L370.5 155 L368.75 163.75 L367.5 177.5 L360 171.25 L366.25 167.5 L367.5 160 L367.5 153.75 L360 145 L350 140 L340 136.25Z M302 157.5 L308.75 156.25 L315.5 157 L313.75 160.5 L306.25 161.25Z M387.5 178.75 L390.5 177.5 L394.5 181.25 L396.25 188.75 L400 193.75 L405 200 L408.75 206.25 L407.5 208.75 L400 209.5 L398.75 207 L402.5 203.75 L400 197.5 L396.25 191.25 L392.5 186.25Z M349.5 200.5 L352.5 203.75 M356.75 210 L360 216.75 M444.5 218.75 L445 211.25 L448 208.75 L449.5 212.5 L448 217.5Z M425 234.5 L429.5 232.5 L433 233.75 L431.25 236.25 L426.25 235.75Z M374.25 235.5 L378.75 236.25 L382.5 241.25 L390 246.25 L398.25 250 L392.5 248.75 L385 245 L378.75 241.25 L374.5 238.75Z M406.25 236.25 L408.75 235.5 L413.75 245 L417.5 255 L418.75 263.75 L423.75 267.5 L428.75 272.5 L430.5 278.75 L428.75 280 L425 272.5 L418.75 268.75 L413.75 265 L413 262 L416.25 261.25 L415 253.75 L411.25 246.25 L408 238.75Z M453 282.5 L457.5 282 L462.5 286.25 L467 287.5 L467.5 290.75 L460 291.25 L456.25 290 L456.25 286.25Z M471.25 288.75 L477 288.25 L477.5 300 L472.5 306.25 L466.25 310 L460 316.25 L456.25 320 L456.25 317.5 L462.5 311.25 L468.75 306.25 L473.75 301.25 L475 295 L470 295Z M452.5 297.5 L455 293.75 M478.25 267.5 L483.75 267 L482.5 269.5 L478.75 268.75Z M490.5 294.5 L494.5 295.75 M509.5 304.5 L517.5 306.25 L525 308 L529.25 311.25 L527.5 313.25 L520 310 L511.25 310Z M47.5 333.25 L53.75 334 L60 337 L61.25 343.25 L65.5 348.25 L65.5 353.25 L60 358.25 L51.25 362 L42.5 359.5 L37.5 353.25 L41.25 355.75 L46.25 352 L43.75 347 L41.25 342 L43.75 337Z M140 327 L155 327.75 L165 327 L172.5 334.5 L182.5 341.5 L192.5 345.75 L200 347 L207.5 350.75 L217.5 354 L225 355.75 L235 352.5 L246.25 351.25 L248.75 355.75 L252.5 360.75 L256.25 368.25 L257 378.25 L260 385.75 L267.5 393.25 L275 399.5 L282.5 403.25 L290 402.75 L299.75 405.75 M113.75 352 L118.75 348.25 L122.5 346.25 L120 350 L115.5 352.75Z M216.25 379.5 L220 382 M223.75 386.5 L228.75 389.5 L235 395 L230 392.5Z M236.25 396.5 L243.75 400.75 M255 402.5 L260 401.5 M260 409 L265.5 412.75 L262.5 412Z M181.25 462 L187.5 459.5 M192.5 459.5 L198.75 456.5 M120.75 477.75 L122.5 479.5 L130 478.25 L135.75 479.5 L135 482.5 L127.5 483.25 L122 484.5Z M299.75 440.75 L295 445.75 L293.75 450.75 L299.75 453.25 M278.75 327 L285 333.25 L290 330.75 L287.5 334.5 L292.5 339.5 L299.75 342 M300 337 L303.75 334.5 L306.25 339.5 L312.5 344.5 L321.25 350.75 L322.5 357 L317.5 359 L315 354.5 L310 350.75 L305 343.25 L300 342Z M322.5 352 L330 359.5 L336.25 364.5 L333.75 368.25 L337.5 365.75 L343.75 368.25 L346.25 372 L351.25 374 L353.75 370.75 L360 372 L366.25 375.75 L371.25 380.75 L380 380 L387.5 379.5 L392.5 382 L395 387 L393.75 392 L388.75 392 L386.25 398.25 L387.5 402 L393.75 398.25 L398.75 400.75 L405 402 L408.75 405 L410 402 L420 404.5 L430 407.5 L435 410.75 L440 417 L447.5 423.25 L453.75 425.75 L460 425.75 L463.75 429.5 L461.25 435.75 L456.25 439 L445 440 L435 441.5 L427.5 444 L422.5 447 L417.5 449 L416.25 444.5 L417.5 440.75 L413.75 444.5 L411.25 448.25 L400 450 L392.5 448.25 L385 445.75 L375 444.5 L366.25 443.25 L357.5 444.5 L347.5 446.5 L337.5 448.25 L327.5 450 L315 449 L300 451.5 M300 404 L310 402 L316.25 404.5 L318.75 410.75 L323.75 417 L322.5 423.25 L317.5 427 L310 432 L303.75 437 L300 440.75 M483.75 387 L486.25 380.75 L492.5 377 L500 375 L503.75 378.25 L510 375.75 L513.75 369.5 L516.25 368.25 L515.5 377 L512.5 383.25 L508.75 387.5 L500 389.5 L491.25 390.75 L485 389.5Z M513.75 359 L517.5 355 L520.5 358.25 L516.25 362Z M548.25 338.25 L551.25 342 L555.5 341.5 L553.75 344 L550 343.25Z M562.5 332.5 L567.5 333.25 L568.75 338.25 L565.5 337Z M571.25 338.25 L578.75 339.5 L580.5 343.25 L573.75 342.5Z M583.75 344 L589.5 347 M542 347 L543 350 M496.25 463.25 L495 457 L498.75 451.5 L507.5 448.25 L517.5 447 L527.5 446.5 L535 449.5 L541.25 453.25 L547.5 457 L552.5 456.5 L560 457 L568.75 459.5 L572.5 462 L575 459.5 L576.25 452 L582.5 448.25 L590 448.75 L599.75 452 M496.25 463.25 L502.5 464.5 L512.5 464 L520 467 L526.25 472 L531.25 475.75 L528.75 479.5 L527.5 487 L529.5 492 L526.25 497 L530 502 L536.25 509.5 L542.5 513.25 L547.5 518.25 L546.25 524.5 L537.5 525 L533.75 529.5 L525 529 L512.5 527 L500 525.75 L490 525.75 L486.25 524 L485 521.5 L480 520.75 L483.75 524.5 L475 521.5 L465 519 L456.25 518.25 L450 522 L448 529.5 L450 537 L457.5 539.5 L465 542 L470 547 L475 553.25 L478.75 553.25 L478.75 547 L485 543.25 L492.5 541.5 L500 542 L512.5 544 L525 547.5 L535 544.5 L545 542.5 L555 542.5 L565 544.5 L572.5 548.25 L577.5 553.25 L581.25 558.75 M503.75 502 L507.5 500.75 L515 503.25 L522.5 508.25 L526.25 513.25 L525 515.75 L517.5 513.25 L510 509.5 L503.75 505.75Z M519.5 439.5 L525 437.75 L532.5 440.75 L533.75 443.25 L526.25 442.5Z M575 459.5 L577.5 467 L576.25 477 L575 484.5 L578.75 492 L576.25 499.5 L571.25 502 L576.25 507 L577.5 514.5 L572.5 519.5 L568.75 522 L565 519.5 L561.25 520.75 L562.5 525.75 L567.5 529.5 L566.25 524.5 L570 529.5 L575 534.5 L577 539.5 L575 547 L575 552 M573.75 525.75 L581.25 524.5 L587.5 528.25 L585 532 L577.5 530.75Z M483.75 551.25 L488.75 551.75 M600 452 L605 449.5 L610 447.5 L617.5 448.75 L623.75 453.25 L630 457 L637.5 455.25 L643.75 460.75 L650 464 L656.25 463.25 L660 460.75 L663.75 465.75 L666.25 474.5 L671.25 482 L677.5 482.5 L685 480.75 L692.5 481.5 L695 479 L695.5 483.25 L697.5 485 L695 488.25 L686.25 487.5 L677.5 487 L675.5 490.75 L676.25 494 L682.5 493.25 L687.5 495 L695 498.25 L702.5 500 L707.5 498.25 L715 502 L722.5 508.25 L730 514.5 L737 520.75 L735 527 L731.25 534.5 L726.25 536.5 L723.75 540.75 L720 544.5 L716.25 545.75 M715.5 545.75 L720 544.5 L725 547 L723.75 549.5 L717.5 549Z M716.25 544.5 L712.5 537 L707.5 533.25 L700 532.5 L692.5 530.75 L685 531.5 L676.25 533.25 L672.5 530 L665 529.5 L658.75 531.5 L655 537 L650 542.5 L642.5 543.25 L635 544.5 L631.25 539.5 L630 533.25 L626.25 531.5 L623.75 534.5 L620 539.5 L613.75 540.75 L608.75 538.25 L606.25 542 L607.5 548.25 L605 554.5 L602.5 558.75 M755 549.5 L758 548.25 L760 550.75 L757.5 552.75Z M792 558.75 L791.25 554.5 L792.5 549.5 L791.25 544.5 L788.75 539.5 L787 534.5 L790 532 L791.25 527 L797.5 526.25 L807.5 527.75 L820 528.25 L832.5 529 L845 530 L855 532 L862.5 534 L864.5 539.5 L862.5 544.5 L857.5 548.25 L855 553.25 L851.25 556.5 L845 557.5 L835 557 L825 557.5 L815 556.5 L805 558.25 L797.5 557 L792 558.75 M867 549 L873.75 546.5 L880.5 547 L875 550 L868.75 551Z M877.5 537 L881.25 537 L882.5 540 L879.5 540.75Z M892.5 535 L899.75 535.75 L901.25 538.25 L893.75 537.5Z M604.5 357 L605.5 360.75 M922 514 L928.75 515.75 M921.25 527.75 L925 527 L923 530Z M906.25 535.75 L910 532 L914.5 531.5 L912 535 L907.5 538.25Z M980 545.75 L986.25 540.75 L988 542.5 L983.75 547Z M982.5 550.75 L987.5 550.25 L986.25 555Z M34.5 724 L40 726 L36.25 730.25 L34.5 731.5 M34.5 750.25 L37.5 761.5 L34.5 769 M55.5 760.25 L58.75 757.75 L58.75 761.5Z M578.75 559 L581.25 567.75 L587.5 571.5 L591.25 576.5 L593.75 570.25 L596.25 564 L599.75 560.25 M585.5 579.5 L586.75 577.75 L588 579.5 L586.75 581.5Z M900 569 L907.5 568.5 L914.5 570.25 L907.5 572.75 L900 574Z M994.5 591.5 L998.75 589.5 L1002.5 594 L1005 599 L1001.25 597.75 L996.25 595.25Z M1006.25 601.5 L1010 602 L1010 607 L1006.25 606.5Z M988.25 584 L989.5 586 M993.75 560.25 L996.25 561.5 M1041.25 573.5 L1046.25 574 L1048 579 L1045 581.5 L1042 578.5Z M1040.75 606.5 L1043.75 603.5 L1048.75 604.5 L1050.5 609 L1047.5 613.5 L1042.5 612Z M1024.25 626.5 L1026.25 622.75 L1028.75 627 L1028 631 L1025 630.25Z M1045 651.5 L1050 649.5 L1055 651.5 L1056.25 659 L1055 666.5 L1051.25 671.5 L1047.5 666.5 L1045 659Z M1055 656.5 L1058.75 650.25 L1057.5 644 L1060 640.25 L1063.75 642.75 L1063.75 649 L1068.75 652.75 L1074.25 655.25 L1067.5 656 L1061.25 657Z M1078.75 651.5 L1083 649.5 M1066.75 672.75 L1068 669.75 L1071.25 669.5 L1073.25 672 L1072.5 675.25 L1069.5 676.5Z M1060 691.5 L1063.75 690.25 L1068.75 694 L1070.5 702.75 L1070 710.25 L1065.5 714 L1063.75 707.75 L1061.25 701.5 L1059.5 695.25Z M1072 734 L1076.25 732.25 L1082.5 735.25 L1086.25 740.25 L1085 744 L1088.75 747.75 L1091.25 755.25 L1089.5 759 L1085 756.5 L1078.75 755.25 L1078 751.5 L1081.25 749 L1076.25 745.25 L1073.75 740.25Z M1078.75 788.5 L1080.5 782.25 L1083.75 777.25 L1087 778.5 L1088 786 L1086.25 796 L1083.75 798 L1079.5 794.75Z M1069.5 824.75 L1071.25 819.75 L1075 817.25 L1077 821 L1076.25 828.5 L1073 831 L1070 829Z M1070.5 838.5 L1073 836.5 M1067 856 L1068 853.5 M1059.5 867.25 L1062.5 865.5 L1063 869.75 L1060 869.75Z M122.5 816.75 L123 820.25 M106.5 862.25 L107.75 861 L108.25 867.25 L106.75 868Z M551.25 901 L555 894.75 L557.5 887.25 L556.25 882.25 L562.5 880.5 L565 882.25 L565 884.75 L568.75 884.75 L569.5 878.5 L571.25 876 L576.25 874.75 L577 871 L581.25 869.25 L587.5 871 L593.75 873.5 L599.75 877.25 M599.75 897.25 L596.25 901 M655.5 861 L657.5 859.75 L661.25 864.75 L664.5 871 L661.25 871 L657.5 867.25Z M697.5 874.75 L700 873.5 L703.75 877.25 L706.25 882.25 L711.25 886 L716.25 890.5 L715 893 L708.75 889.75 L702.5 884.75 L698.75 879.75Z M733.75 879 L735.5 877.75 L738.75 881 L743 883 L743 889.75 L741.25 894.75 L739.5 891 L738.75 884.75 L735 883Z M644.5 901 L647.5 891 L651.25 887.25 L657.5 884.75 L662.5 887.25 L665.5 893.5 L667 901 M600 877.25 L603.75 883.5 L605.5 891 L602.5 896 L600 897.25 M263.54 541.42 L265.71 536 L270.58 531.12 L281.42 530.58 L284.67 527.33 L287.38 526.25 L293.33 527.55 L299.83 528.96 L303.08 528.42 L308.5 530.37 L315 530.58 L322.04 533.29 L328 533.62 L332.88 533.62 L338.83 540.88 L342.08 541.42 L347.5 544.45 L351.83 544.88 L358.33 547.38 L361.58 552.25 L363.75 557.67 L365.7 560.7 L362.67 562.87 L358.33 563.62 L351.83 564.17 L346.96 562.87 L344.25 560.38 L341 559.62 L337.75 560.05 L337.21 557.67 L335.04 557.67 L332.88 562 L330.71 565.25 L328 564.71 L325.29 562.54 L322.58 563.08 L320.42 567.42 L319.33 569.04 L322.37 571.75 L320.42 573.38 L317.17 571.21 L312.83 567.42 L309.58 564.17 L305.25 565.25 L300.92 564.17 L293.88 564.17 L290.08 560.38 L287.92 555.5 L284.67 554.42 L281.42 550.62 L278.71 545.21 L274.92 544.88 L270.58 545.21 L266.25 544.12Z M284.5 205.77 L287.2 203.61 L290.97 201.99 L295.28 200.92 L297.98 202.53 L300.67 205.77 L302.83 210.08 L303.69 215.47 L303.37 219.78 L304.45 223.56 L303.37 228.41 L301.75 231.64 L297.44 232.72 L293.13 231.64 L292.05 230.03 L294.74 226.25 L291.51 224.64 L289.89 221.94 L289.35 217.63 L287.2 214.39 L285.04 210.08Z M292.59 207.92 L297.44 204.69 L297.98 207.39 L294.74 214.39Z M291.51 198.22 L294.2 196.28 L296.9 197.68 M280.19 203.07 L283.42 202.32 L282.35 204.15Z M292.59 230.03 L297.44 227.87 L302.29 226.79" fill="none" stroke="#000" stroke-width="1.05" stroke-linejoin="round" stroke-linecap="round"/>
</g>
<text x="25.3" y="108.6" text-anchor="end" textLength="20.5" lengthAdjust="spacingAndGlyphs" class="ax">26N</text>
<path d="M28.8 104.1h2.2" stroke="#a2a2a2" stroke-width="1.3"/>
<text x="25.3" y="165.1" text-anchor="end" textLength="20.5" lengthAdjust="spacingAndGlyphs" class="ax">25N</text>
<path d="M28.8 160.6h2.2" stroke="#a2a2a2" stroke-width="1.3"/>
<text x="25.3" y="221.6" text-anchor="end" textLength="20.5" lengthAdjust="spacingAndGlyphs" class="ax">24N</text>
<path d="M28.8 217.1h2.2" stroke="#a2a2a2" stroke-width="1.3"/>
<text x="25.3" y="278.1" text-anchor="end" textLength="20.5" lengthAdjust="spacingAndGlyphs" class="ax">23N</text>
<path d="M28.8 273.6h2.2" stroke="#a2a2a2" stroke-width="1.3"/>
<text x="25.3" y="334.6" text-anchor="end" textLength="20.5" lengthAdjust="spacingAndGlyphs" class="ax">22N</text>
<path d="M28.8 330.1h2.2" stroke="#a2a2a2" stroke-width="1.3"/>
<text x="25.3" y="391.1" text-anchor="end" textLength="20.5" lengthAdjust="spacingAndGlyphs" class="ax">21N</text>
<path d="M28.8 386.6h2.2" stroke="#a2a2a2" stroke-width="1.3"/>
<text x="25.3" y="447.6" text-anchor="end" textLength="20.5" lengthAdjust="spacingAndGlyphs" class="ax">20N</text>
<path d="M28.8 443.1h2.2" stroke="#a2a2a2" stroke-width="1.3"/>
<text x="25.3" y="504.1" text-anchor="end" textLength="20.5" lengthAdjust="spacingAndGlyphs" class="ax">19N</text>
<path d="M28.8 499.6h2.2" stroke="#a2a2a2" stroke-width="1.3"/>
<text x="25.3" y="560.6" text-anchor="end" textLength="20.5" lengthAdjust="spacingAndGlyphs" class="ax">18N</text>
<path d="M28.8 556.1h2.2" stroke="#a2a2a2" stroke-width="1.3"/>
<text x="25.3" y="617.1" text-anchor="end" textLength="20.5" lengthAdjust="spacingAndGlyphs" class="ax">17N</text>
<path d="M28.8 612.6h2.2" stroke="#a2a2a2" stroke-width="1.3"/>
<text x="25.3" y="673.6" text-anchor="end" textLength="20.5" lengthAdjust="spacingAndGlyphs" class="ax">16N</text>
<path d="M28.8 669.1h2.2" stroke="#a2a2a2" stroke-width="1.3"/>
<text x="25.3" y="730.1" text-anchor="end" textLength="20.5" lengthAdjust="spacingAndGlyphs" class="ax">15N</text>
<path d="M28.8 725.6h2.2" stroke="#a2a2a2" stroke-width="1.3"/>
<text x="25.3" y="786.6" text-anchor="end" textLength="20.5" lengthAdjust="spacingAndGlyphs" class="ax">14N</text>
<path d="M28.8 782.1h2.2" stroke="#a2a2a2" stroke-width="1.3"/>
<text x="25.3" y="843.1" text-anchor="end" textLength="20.5" lengthAdjust="spacingAndGlyphs" class="ax">13N</text>
<path d="M28.8 838.6h2.2" stroke="#a2a2a2" stroke-width="1.3"/>
<text x="25.3" y="899.6" text-anchor="end" textLength="20.5" lengthAdjust="spacingAndGlyphs" class="ax">12N</text>
<path d="M28.8 895.1h2.2" stroke="#a2a2a2" stroke-width="1.3"/>
<text x="81.7" y="918.0" textLength="21.6" lengthAdjust="spacingAndGlyphs" class="ax">82W</text>
<path d="M92.5 904.5v2" stroke="#a2a2a2" stroke-width="1.2"/>
<text x="176.0" y="918.0" textLength="21.6" lengthAdjust="spacingAndGlyphs" class="ax">80W</text>
<path d="M186.8 904.5v2" stroke="#a2a2a2" stroke-width="1.2"/>
<text x="270.2" y="918.0" textLength="21.6" lengthAdjust="spacingAndGlyphs" class="ax">78W</text>
<path d="M281.0 904.5v2" stroke="#a2a2a2" stroke-width="1.2"/>
<text x="364.5" y="918.0" textLength="21.6" lengthAdjust="spacingAndGlyphs" class="ax">76W</text>
<path d="M375.3 904.5v2" stroke="#a2a2a2" stroke-width="1.2"/>
<text x="458.8" y="918.0" textLength="21.6" lengthAdjust="spacingAndGlyphs" class="ax">74W</text>
<path d="M469.6 904.5v2" stroke="#a2a2a2" stroke-width="1.2"/>
<text x="553.1" y="918.0" textLength="21.6" lengthAdjust="spacingAndGlyphs" class="ax">72W</text>
<path d="M563.9 904.5v2" stroke="#a2a2a2" stroke-width="1.2"/>
<text x="647.3" y="918.0" textLength="21.6" lengthAdjust="spacingAndGlyphs" class="ax">70W</text>
<path d="M658.1 904.5v2" stroke="#a2a2a2" stroke-width="1.2"/>
<text x="741.6" y="918.0" textLength="21.6" lengthAdjust="spacingAndGlyphs" class="ax">68W</text>
<path d="M752.4 904.5v2" stroke="#a2a2a2" stroke-width="1.2"/>
<text x="835.9" y="918.0" textLength="21.6" lengthAdjust="spacingAndGlyphs" class="ax">66W</text>
<path d="M846.7 904.5v2" stroke="#a2a2a2" stroke-width="1.2"/>
<text x="930.1" y="918.0" textLength="21.6" lengthAdjust="spacingAndGlyphs" class="ax">64W</text>
<path d="M940.9 904.5v2" stroke="#a2a2a2" stroke-width="1.2"/>
<text x="1024.4" y="918.0" textLength="21.6" lengthAdjust="spacingAndGlyphs" class="ax">62W</text>
<path d="M1035.2 904.5v2" stroke="#a2a2a2" stroke-width="1.2"/>
<text x="1118.7" y="918.0" textLength="21.6" lengthAdjust="spacingAndGlyphs" class="ax">60W</text>
<path d="M1129.5 904.5v2" stroke="#a2a2a2" stroke-width="1.2"/>
<path d="M396.3 64.4L407.3 46.5" stroke="#2626ff" stroke-width="1.5" stroke-linecap="round"/>
<rect x="1144.5" y="98.5" width="18" height="805.5" fill="#fff" stroke="#cdcdcd" stroke-width="1.2"/>
<rect x="1145.5" y="101.50" width="16.5" height="42.40" fill="#e9e9e9"/>
<rect x="1145.5" y="143.90" width="16.5" height="44.66" fill="#edf2d3"/>
<rect x="1145.5" y="188.56" width="16.5" height="44.66" fill="#e4f09b"/>
<rect x="1145.5" y="233.22" width="16.5" height="44.66" fill="#a6c864"/>
<rect x="1145.5" y="277.88" width="16.5" height="44.66" fill="#e0e818"/>
<rect x="1145.5" y="322.54" width="16.5" height="44.66" fill="#ffec00"/>
<rect x="1145.5" y="367.20" width="16.5" height="44.66" fill="#ffec80"/>
<rect x="1145.5" y="411.86" width="16.5" height="44.66" fill="#f3d27e"/>
<rect x="1145.5" y="456.52" width="16.5" height="44.66" fill="#eba54a"/>
<rect x="1145.5" y="501.18" width="16.5" height="44.66" fill="#e58d3c"/>
<rect x="1145.5" y="545.84" width="16.5" height="44.66" fill="#da7c3c"/>
<rect x="1145.5" y="590.50" width="16.5" height="44.66" fill="#f0063c"/>
<rect x="1145.5" y="635.16" width="16.5" height="44.66" fill="#e954a1"/>
<rect x="1145.5" y="679.82" width="16.5" height="44.66" fill="#9a6ea6"/>
<rect x="1145.5" y="724.48" width="16.5" height="44.66" fill="#6272f8"/>
<rect x="1145.5" y="769.14" width="16.5" height="44.66" fill="#7c90fc"/>
<rect x="1145.5" y="813.80" width="16.5" height="44.66" fill="#8cacfc"/>
<rect x="1145.5" y="858.46" width="16.5" height="45.04" fill="#b4c4fc"/>
<path d="M1145.5 143.90h16.5" stroke="#fff" stroke-opacity=".6" stroke-width=".7"/>
<text x="1166.0" y="148.9" class="cb" textLength="33.5" lengthAdjust="spacingAndGlyphs">5.831</text>
<path d="M1145.5 188.56h16.5" stroke="#fff" stroke-opacity=".6" stroke-width=".7"/>
<text x="1166.0" y="193.6" class="cb" textLength="33.5" lengthAdjust="spacingAndGlyphs">5.819</text>
<path d="M1145.5 233.22h16.5" stroke="#fff" stroke-opacity=".6" stroke-width=".7"/>
<text x="1166.0" y="238.2" class="cb" textLength="33.5" lengthAdjust="spacingAndGlyphs">5.807</text>
<path d="M1145.5 277.88h16.5" stroke="#fff" stroke-opacity=".6" stroke-width=".7"/>
<text x="1166.0" y="282.9" class="cb" textLength="33.5" lengthAdjust="spacingAndGlyphs">5.795</text>
<path d="M1145.5 322.54h16.5" stroke="#fff" stroke-opacity=".6" stroke-width=".7"/>
<text x="1166.0" y="327.5" class="cb" textLength="33.5" lengthAdjust="spacingAndGlyphs">5.783</text>
<path d="M1145.5 367.20h16.5" stroke="#fff" stroke-opacity=".6" stroke-width=".7"/>
<text x="1166.0" y="372.2" class="cb" textLength="33.5" lengthAdjust="spacingAndGlyphs">5.772</text>
<path d="M1145.5 411.86h16.5" stroke="#fff" stroke-opacity=".6" stroke-width=".7"/>
<text x="1166.0" y="416.9" class="cb" textLength="26.0" lengthAdjust="spacingAndGlyphs">5.76</text>
<path d="M1145.5 456.52h16.5" stroke="#fff" stroke-opacity=".6" stroke-width=".7"/>
<text x="1166.0" y="461.5" class="cb" textLength="33.5" lengthAdjust="spacingAndGlyphs">5.748</text>
<path d="M1145.5 501.18h16.5" stroke="#fff" stroke-opacity=".6" stroke-width=".7"/>
<text x="1166.0" y="506.2" class="cb" textLength="33.5" lengthAdjust="spacingAndGlyphs">5.736</text>
<path d="M1145.5 545.84h16.5" stroke="#fff" stroke-opacity=".6" stroke-width=".7"/>
<text x="1166.0" y="550.8" class="cb" textLength="33.5" lengthAdjust="spacingAndGlyphs">5.724</text>
<path d="M1145.5 590.50h16.5" stroke="#fff" stroke-opacity=".6" stroke-width=".7"/>
<text x="1166.0" y="595.5" class="cb" textLength="33.5" lengthAdjust="spacingAndGlyphs">5.712</text>
<path d="M1145.5 635.16h16.5" stroke="#fff" stroke-opacity=".6" stroke-width=".7"/>
<text x="1166.0" y="640.2" class="cb" textLength="18.6" lengthAdjust="spacingAndGlyphs">5.7</text>
<path d="M1145.5 679.82h16.5" stroke="#fff" stroke-opacity=".6" stroke-width=".7"/>
<text x="1166.0" y="684.8" class="cb" textLength="33.5" lengthAdjust="spacingAndGlyphs">5.688</text>
<path d="M1145.5 724.48h16.5" stroke="#fff" stroke-opacity=".6" stroke-width=".7"/>
<text x="1166.0" y="729.5" class="cb" textLength="33.5" lengthAdjust="spacingAndGlyphs">5.676</text>
<path d="M1145.5 769.14h16.5" stroke="#fff" stroke-opacity=".6" stroke-width=".7"/>
<text x="1166.0" y="774.1" class="cb" textLength="33.5" lengthAdjust="spacingAndGlyphs">5.664</text>
<path d="M1145.5 813.80h16.5" stroke="#fff" stroke-opacity=".6" stroke-width=".7"/>
<text x="1166.0" y="818.8" class="cb" textLength="33.5" lengthAdjust="spacingAndGlyphs">5.652</text>
<path d="M1145.5 858.46h16.5" stroke="#fff" stroke-opacity=".6" stroke-width=".7"/>
<text x="1166.0" y="863.5" class="cb" textLength="26.0" lengthAdjust="spacingAndGlyphs">5.64</text>
<rect x="915.5" y="877.5" width="209" height="20.5" fill="#fff" stroke="#a8a8a8" stroke-width="1"/>
<text x="931" y="893.5" class="lg" fill="#1e9bff" textLength="22" lengthAdjust="spacingAndGlyphs">Sis</text>
<text x="954" y="893.5" class="lg" fill="#2222ff" font-weight="bold" textLength="16.5" lengthAdjust="spacingAndGlyphs">ππ</text>
<text x="974.5" y="893.5" class="lg" fill="#444">–</text>
<text x="992.5" y="893.5" class="lg" fill="#444" textLength="126" lengthAdjust="spacingAndGlyphs">ONAMET/REP.DOM.</text>
<text x="167.1" y="33.3" class="t1" textLength="86.4" lengthAdjust="spacingAndGlyphs">Mapa</text>
<text x="274.8" y="33.3" class="t1" textLength="39.7" lengthAdjust="spacingAndGlyphs">de</text>
<text x="334.8" y="33.3" class="t1" textLength="132.0" lengthAdjust="spacingAndGlyphs">Espesor</text>
<text x="487.1" y="33.3" class="t1" textLength="179.0" lengthAdjust="spacingAndGlyphs">500−1000</text>
<text x="688.8" y="33.3" class="t1" textLength="74.7" lengthAdjust="spacingAndGlyphs">(km,</text>
<text x="784.8" y="33.3" class="t1" textLength="103.0" lengthAdjust="spacingAndGlyphs">somd.</text>
<text x="909.8" y="33.3" class="t1" textLength="24.3" lengthAdjust="spacingAndGlyphs">+</text>
<text x="955.8" y="33.3" class="t1" textLength="100.0" lengthAdjust="spacingAndGlyphs">cont.)</text>
<text x="56.2" y="61.3" class="t2" fill="#1c1cff" textLength="138.2" lengthAdjust="spacingAndGlyphs">21−Nov−2025</text>
<text x="291.2" y="61.3" class="t2" fill="#1c1cff" textLength="46.6" lengthAdjust="spacingAndGlyphs">1800</text>
<text x="348.9" y="61.3" class="t2" fill="#1c1cff" textLength="35.5" lengthAdjust="spacingAndGlyphs">UTC</text>
<text x="418.9" y="61.3" class="t2" fill="#1c1cff" textLength="42.9" lengthAdjust="spacingAndGlyphs">2:00</text>
<text x="471.6" y="61.3" class="t2" fill="#1c1cff" textLength="29.5" lengthAdjust="spacingAndGlyphs">pm</text>
<text x="512.2" y="61.3" class="t2" fill="#1c1cff" textLength="43.9" lengthAdjust="spacingAndGlyphs">Hora</text>
<text x="566.6" y="61.3" class="t2" fill="#1c1cff" textLength="48.8" lengthAdjust="spacingAndGlyphs">Local</text>
<text x="44.0" y="82.7" class="t3" fill="#0a9bff" textLength="91.3" lengthAdjust="spacingAndGlyphs">Pronóstico</text>
<text x="144.0" y="82.7" class="t3" fill="#0a9bff" textLength="30.3" lengthAdjust="spacingAndGlyphs">con</text>
<text x="184.0" y="82.7" class="t3" fill="#0a9bff" textLength="15.3" lengthAdjust="spacingAndGlyphs">el</text>
<text x="208.3" y="82.7" class="t3" fill="#0a9bff" textLength="59.4" lengthAdjust="spacingAndGlyphs">Modelo</text>
<text x="275.7" y="82.7" class="t3" fill="#0a9bff" textLength="102.0" lengthAdjust="spacingAndGlyphs">Atmósferico</text>
<text x="386.3" y="82.7" class="t3" fill="#0a9bff" textLength="34.7" lengthAdjust="spacingAndGlyphs">WRF</text>
<text x="431.7" y="82.7" class="t3" fill="#0a9bff" textLength="92.6" lengthAdjust="spacingAndGlyphs">inicializado</text>
<text x="534.0" y="82.7" class="t3" fill="#0a9bff" textLength="11.0" lengthAdjust="spacingAndGlyphs">a</text>
<text x="553.0" y="82.7" class="t3" fill="#0a9bff" textLength="25.3" lengthAdjust="spacingAndGlyphs">las</text>
<text x="589.0" y="82.7" class="t3" fill="#0a9bff" textLength="184.7" lengthAdjust="spacingAndGlyphs">1800UTC_20NOV2025</text>
<text x="783.0" y="82.7" class="t3" fill="#0a9bff" textLength="10.7" lengthAdjust="spacingAndGlyphs">y</text>
<text x="801.7" y="82.7" class="t3" fill="#0a9bff" textLength="49.3" lengthAdjust="spacingAndGlyphs">válido</text>
<text x="860.7" y="82.7" class="t3" fill="#0a9bff" textLength="46.3" lengthAdjust="spacingAndGlyphs">hasta</text>
<text x="917.3" y="82.7" class="t3" fill="#0a9bff" textLength="24.4" lengthAdjust="spacingAndGlyphs">las</text>
<text x="962.3" y="82.7" class="t3" fill="#0a9bff" textLength="184.7" lengthAdjust="spacingAndGlyphs">1800UTC_23NOV2025</text>
</svg>
</body></html>
